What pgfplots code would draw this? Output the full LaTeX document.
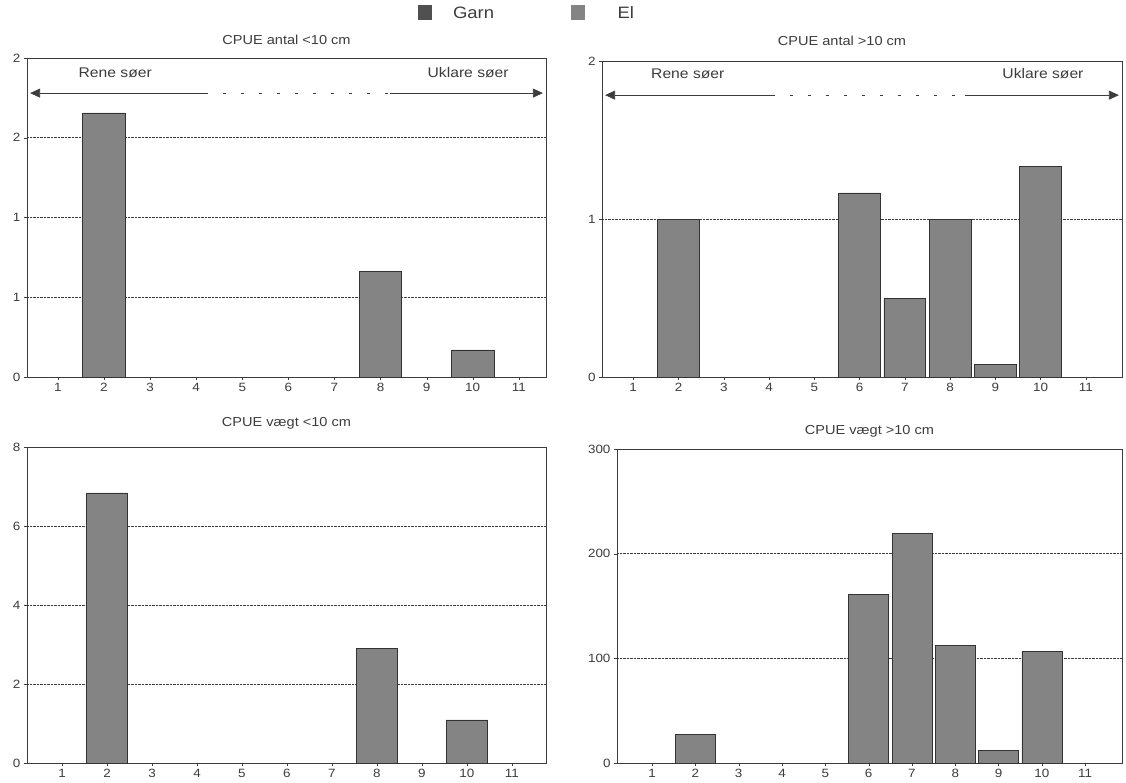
\documentclass[border=0pt]{standalone}
\usepackage{pgfplots}
\pgfplotsset{compat=1.18}
\usepackage{fontspec}
\setmainfont{Liberation Sans}[FakeStretch=1.12]
\usetikzlibrary{arrows.meta}
\definecolor{barfill}{RGB}{132,132,132}
\definecolor{garn}{RGB}{80,80,80}
\definecolor{ink}{RGB}{60,60,60}
\pgfplotsset{
  panel/.style={
    scale only axis,
    xtick={1,...,11},
    ymin=0,
    ymajorgrids,
    grid style={densely dotted, ink, line width=0.7pt},
    axis line style={ink, line width=0.6pt},
    tick align=outside,
    major tick length=3pt,
    tick style={ink},
    xtick pos=bottom, ytick pos=left,
    ticklabel style={font=\fontsize{12}{12}\selectfont, text=ink},
    /pgf/number format/assume math mode=true,
    title style={font=\fontsize{13}{13}\selectfont, text=ink},
  },
  bars/.style={ybar, bar width=0.92, fill=barfill, draw=black!80, line width=0.6pt},
}
\begin{document}
\begin{tikzpicture}
\useasboundingbox (0pt,0pt) rectangle (1126pt,-782pt);
% top-left
\begin{axis}[panel, at={(27pt,-377pt)}, anchor=south west,
  width=519pt, height=319pt, xmin=0.33, xmax=11.59, ymax=2,
  ytick={0,0.5,1,1.5,2}, yticklabels={0,1,1,2,2},
  title={CPUE antal <10 cm}, title style={yshift=4pt},
  legend style={at={(0.963,1.14)}, anchor=center, draw=none, fill=none,
    legend columns=2, font=\fontsize{16.5}{16.5}\selectfont, text=ink,
    /tikz/every even column/.append style={column sep=75pt}},
  legend cell align=left]
\addlegendimage{legend image code/.code={\fill[garn] (0pt,-6pt) rectangle (13pt,8pt);}}
\addlegendentry{\hspace{20pt}Garn}
\addlegendimage{legend image code/.code={\fill[barfill] (0pt,-6pt) rectangle (13pt,8pt);}}
\addlegendentry{\hspace{31pt}El}
\addplot[bars] coordinates {(2,1.656) (8,0.66) (10,0.17)};
\draw[ink, line width=0.8pt, -{Triangle[length=10pt,width=9pt]}] (rel axis cs:0.343,0.89) -- (rel axis cs:0.006,0.89);
\draw[ink, line width=0.8pt, dash pattern=on 3pt off 15pt] (rel axis cs:0.343,0.89) -- (rel axis cs:0.70,0.89);
\draw[ink, line width=0.8pt, -{Triangle[length=10pt,width=9pt]}] (rel axis cs:0.70,0.89) -- (rel axis cs:0.994,0.89);
\node[font=\fontsize{14}{14}\selectfont, text=ink] at (rel axis cs:0.17,0.955) {Rene søer};
\node[font=\fontsize{14}{14}\selectfont, text=ink] at (rel axis cs:0.85,0.955) {Uklare søer};
\end{axis}
% top-right
\begin{axis}[panel, at={(602pt,-377pt)}, anchor=south west,
  width=520pt, height=316pt, xmin=0.31, xmax=11.8, ymax=2,
  ytick={0,1,2},
  title={CPUE antal >10 cm}, title style={yshift=6pt, xshift=-20pt}]
\addplot[bars] coordinates {(2,1.0) (6,1.165) (7,0.5) (8,1.0) (9,0.08) (10,1.335)};
\draw[ink, line width=0.8pt, -{Triangle[length=10pt,width=9pt]}] (rel axis cs:0.327,0.892) -- (rel axis cs:0.006,0.892);
\draw[ink, line width=0.8pt, dash pattern=on 3pt off 15pt] (rel axis cs:0.327,0.892) -- (rel axis cs:0.698,0.892);
\draw[ink, line width=0.8pt, -{Triangle[length=10pt,width=9pt]}] (rel axis cs:0.698,0.892) -- (rel axis cs:0.994,0.892);
\node[font=\fontsize{14}{14}\selectfont, text=ink] at (rel axis cs:0.165,0.96) {Rene søer};
\node[font=\fontsize{14}{14}\selectfont, text=ink] at (rel axis cs:0.848,0.96) {Uklare søer};
\end{axis}
% bottom-left
\begin{axis}[panel, at={(27pt,-763pt)}, anchor=south west,
  width=519pt, height=316pt, xmin=0.22, xmax=11.76, ymax=8,
  ytick={0,2,4,6,8},
  title={CPUE vægt <10 cm}, title style={yshift=8pt}]
\addplot[bars] coordinates {(2,6.84) (8,2.91) (10,1.09)};
\end{axis}
% bottom-right
\begin{axis}[panel, at={(617pt,-763pt)}, anchor=south west,
  width=505pt, height=314pt, xmin=0.19, xmax=11.85, ymax=300,
  ytick={0,100,200,300},
  title={CPUE vægt >10 cm}, title style={yshift=2pt}]
\addplot[bars] coordinates {(2,27.5) (6,161) (7,219) (8,112) (9,12) (10,107)};
\end{axis}
\end{tikzpicture}
\end{document}
